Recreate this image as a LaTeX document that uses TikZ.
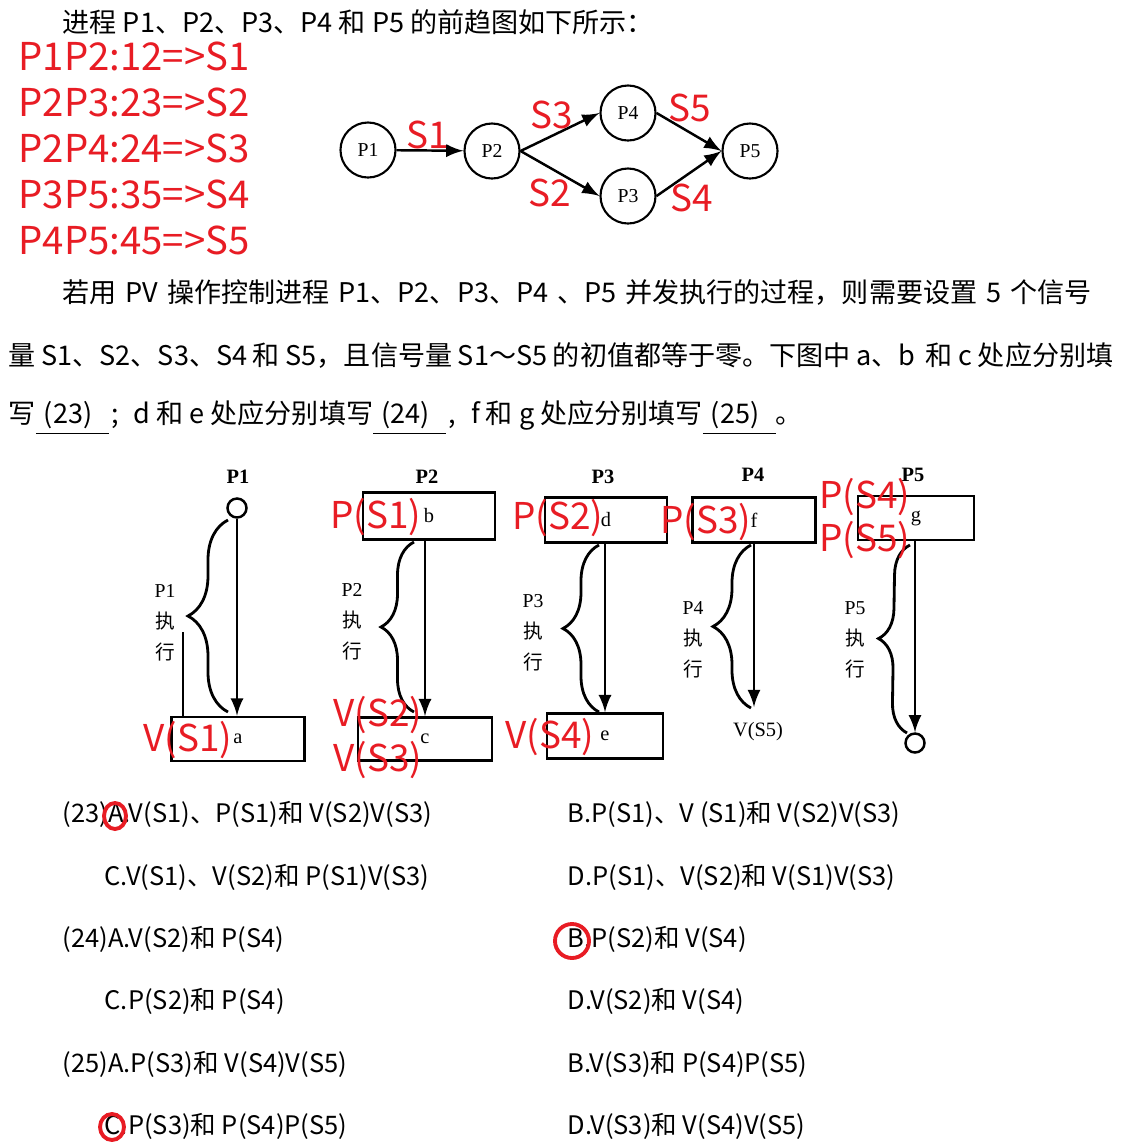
\documentclass[tikz,border=0pt]{standalone}
\usepackage{fontspec}
\setmainfont{Noto Sans CJK SC}
\newfontfamily\scanfont{Liberation Serif}
\usetikzlibrary{positioning,decorations.pathreplacing}
\definecolor{markred}{RGB}{232,28,36}

\tikzset{
  body/.style={anchor=west,inner sep=0pt,font=\fontsize{7.7pt}{9pt}\selectfont},
  opt/.style={anchor=west,inner sep=0pt,font=\fontsize{7.25pt}{9pt}\selectfont},
  redlab/.style={text=markred,inner sep=0pt,font=\fontsize{10.5pt}{12pt}\selectfont},
  bigred/.style={redlab,anchor=west,font=\fontsize{10.9pt}{12pt}\selectfont},
  proc/.style={draw,circle,line width=0.6pt,minimum size=0.55cm,inner sep=0pt,font=\scanfont\fontsize{5.6pt}{6pt}\selectfont},
  stepbox/.style={draw,line width=0.8pt,inner sep=0pt,font=\scanfont\fontsize{5.8pt}{6pt}\selectfont},
  head/.style={inner sep=0pt,font=\scanfont\bfseries\fontsize{5.8pt}{6pt}\selectfont},
  side/.style={inner sep=0pt,align=center,font=\fontsize{5.6pt}{8.8pt}\selectfont},
  dot/.style={draw,circle,line width=0.7pt,minimum size=0.19cm,inner sep=0pt},
  curly/.style={decorate,line width=0.8pt,decoration={brace,amplitude=#1}},
  ring/.style={draw=markred,line width=1.1pt}
}

\begin{document}
\begin{tikzpicture}[x=0.01cm,y=-0.01cm]
	\tikzset{>=latex}
	\useasboundingbox (0,0) rectangle (1121,1142);
	\fill[white] (0,0) rectangle (1121,1142);

	\node[body] (line1) at (62,22) {进程 P1、P2、P3、P4 和 P5 的前趋图如下所示：};

	\node[bigred] (r1) at (18,56) {P1P2:12=>S1};
	\node[bigred] (r2) at (18,102) {P2P3:23=>S2};
	\node[bigred] (r3) at (18,148) {P2P4:24=>S3};
	\node[bigred] (r4) at (18,194) {P3P5:35=>S4};
	\node[bigred] (r5) at (18,240) {P4P5:45=>S5};

	\node[proc] (p1) at (368,150) {P1};
	\node[proc] (p2) at (492,151) {P2};
	\node[proc] (p4) at (628,113) {P4};
	\node[proc] (p3) at (628,196) {P3};
	\node[proc] (p5) at (750,151) {P5};
	\draw[->,line width=0.7pt] (p1) -- (p2);
	\draw[->,line width=0.7pt] (p2.east) -- (p4.west);
	\draw[->,line width=0.7pt] (p2.east) -- (p3.west);
	\draw[->,line width=0.7pt] (p4.east) -- (p5.west);
	\draw[->,line width=0.7pt] (p3.east) -- (p5.west);
	\node[redlab] (s1) at (428,135) {S1};
	\node[redlab] (s3) at (552,115) {S3};
	\node[redlab] (s5) at (690,108) {S5};
	\node[redlab] (s2) at (550,193) {S2};
	\node[redlab] (s4) at (692,198) {S4};

	\node[body] (line2) at (62,293) {\makebox[10.28cm][s]{若用 PV 操作控制进程 P1、P2、P3、P4 、P5 并发执行的过程，则需要设置 5 个信号}};
	\node[body] (line3) at (8,355) {\makebox[11.04cm][s]{量 S1、S2、S3、S4 和 S5，且信号量 S1～S5 的初值都等于零。下图中 a、b\, 和 c 处应分别填}};
	\node[body] (line4) at (8,418) {写\underline{\hspace{0.3em}(23)\hspace{0.6em}}\hspace{0.1em};\hspace{0.55em}d 和 e 处应分别填写\underline{\hspace{0.3em}(24)\hspace{0.6em}}\hspace{0.1em},\hspace{0.55em}f 和 g 处应分别填写\underline{\hspace{0.3em}(25)\hspace{0.6em}}。};

	\node[head] (h1) at (238,477) {P1};
	\node[head] (h2) at (427,477) {P2};
	\node[head] (h3) at (603,477) {P3};
	\node[head] (h4) at (753,475) {P4};
	\node[head] (h5) at (913,475) {P5};

	\node[dot] (start1) at (237,508) {};
	\node[stepbox,minimum width=1.33cm,minimum height=0.44cm] (a) at (238,739) {a};
	\draw[->,line width=0.7pt] (start1) -- (start1 |- a.north);
	\coordinate (tail1) at (183,632);
	\draw[line width=0.7pt] (tail1) -- (tail1 |- a.north);
	\draw[curly=0.4cm] (228,712) -- (228,520);
	\node[side] (t1) at (165,623) {{\scanfont P1}\\执\\行};

	\node[stepbox,minimum width=1.32cm,minimum height=0.47cm] (b) at (429,516) {b};
	\node[stepbox,minimum width=1.34cm,minimum height=0.43cm] (c) at (425,739) {c};
	\draw[->,line width=0.7pt] (b.south -| c.north) -- (c.north);
	\draw[curly=0.33cm] (414,712) -- (414,542);
	\node[side] (t2) at (352,622) {{\scanfont P2}\\执\\行};

	\node[stepbox,minimum width=1.22cm,minimum height=0.45cm] (d) at (606,520) {d};
	\node[stepbox,minimum width=1.16cm,minimum height=0.45cm] (e) at (605,736) {e};
	\draw[->,line width=0.7pt] (d.south -| e.north) -- (e.north);
	\draw[curly=0.36cm] (599,712) -- (599,545);
	\node[side] (t3) at (533,633) {{\scanfont P3}\\执\\行};

	\node[stepbox,minimum width=1.23cm,minimum height=0.45cm] (f) at (754,520) {f};
	\coordinate (end4) at (754,707);
	\draw[->,line width=0.7pt] (f.south) -- (end4);
	\draw[curly=0.38cm] (751,708) -- (751,545);
	\node[side] (t4) at (693,640) {{\scanfont P4}\\执\\行};
	\node[head,font=\scanfont\fontsize{5.8pt}{6pt}\selectfont] (v5) at (758,732) {V(S5)};

	\node[stepbox,minimum width=1.16cm,minimum height=0.44cm] (g) at (916,518) {g};
	\node[dot] (stop5) at (915,743) {};
	\draw[->,line width=0.7pt] (g.south -| stop5) -- (stop5);
	\draw[curly=0.3cm] (907,733) -- (910,545);
	\node[side] (t5) at (855,640) {{\scanfont P5}\\执\\行};

	\node[redlab] (ps1) at (376,517) {P(S1)};
	\node[redlab] (vs1) at (188,740) {V(S1)};
	\node[redlab] (vs2) at (378,715) {V(S2)};
	\node[redlab] (vs3) at (378,760) {V(S3)};
	\node[redlab] (ps2) at (558,518) {P(S2)};
	\node[redlab] (ps3) at (706,522) {P(S3)};
	\node[redlab] (ps4) at (865,497) {P(S4)};
	\node[redlab] (ps5) at (865,540) {P(S5)};
	\node[redlab] (vs4) at (550,737) {V(S4)};

	\node[opt] (q23a) at (62,814) {(23)A.V(S1)、P(S1)和 V(S2)V(S3)};
	\node[opt] (q23b) at (567,814) {B.P(S1)、V (S1)和 V(S2)V(S3)};
	\node[opt] (q23c) at (104,877) {C.V(S1)、V(S2)和 P(S1)V(S3)};
	\node[opt] (q23d) at (567,877) {D.P(S1)、V(S2)和 V(S1)V(S3)};
	\node[opt] (q24a) at (62,939) {(24)A.V(S2)和 P(S4)};
	\node[opt] (q24b) at (567,939) {B.P(S2)和 V(S4)};
	\node[opt] (q24c) at (104,1001) {C.P(S2)和 P(S4)};
	\node[opt] (q24d) at (567,1001) {D.V(S2)和 V(S4)};
	\node[opt] (q25a) at (62,1064) {(25)A.P(S3)和 V(S4)V(S5)};
	\node[opt] (q25b) at (567,1064) {B.V(S3)和 P(S4)P(S5)};
	\node[opt] (q25c) at (104,1126) {C.P(S3)和 P(S4)P(S5)};
	\node[opt] (q25d) at (567,1126) {D.V(S3)和 V(S4)V(S5)};

	\draw[ring] (115,816) ellipse [x radius=0.11cm,y radius=0.13cm];
	\draw[ring] (572,941) ellipse [x radius=0.17cm,y radius=0.17cm];
	\draw[ring] (112,1127) ellipse [x radius=0.12cm,y radius=0.13cm];
\end{tikzpicture}
\end{document}
